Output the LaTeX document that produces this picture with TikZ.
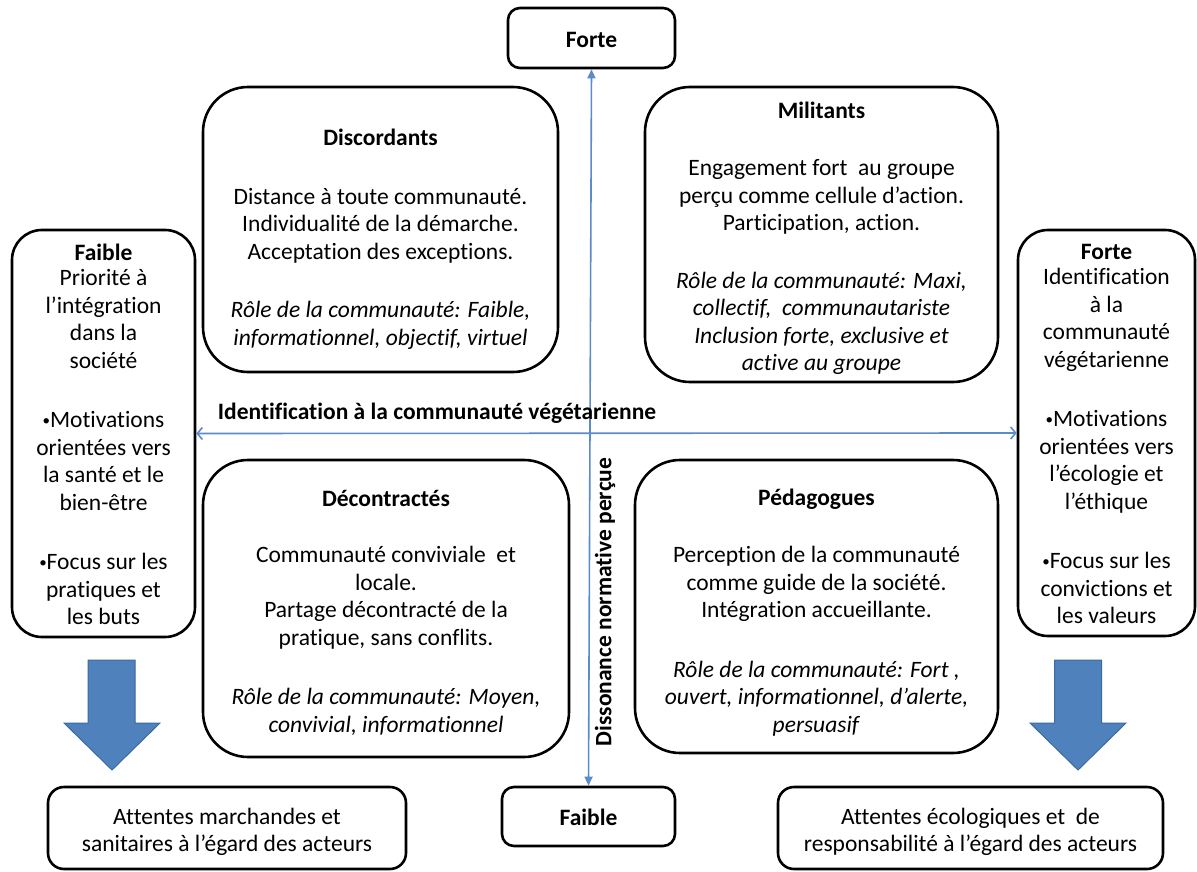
\documentclass[tikz,border=0pt]{standalone}
\usepackage{fontspec}
\setmainfont{Carlito}[Ligatures=NoCommon]
\usetikzlibrary{arrows.meta}
\definecolor{axisblue}{HTML}{5B8BC8}
\definecolor{arrowfill}{HTML}{4F81BD}
\definecolor{arrowline}{HTML}{3C6A9E}
\newcommand{\smallbul}{{\fontsize{15}{15}\selectfont\raisebox{2pt}{•}}}
\begin{document}
\begin{tikzpicture}[x=1pt,y=-1pt,
  box/.style={draw=black, line width=2.6pt, inner sep=0pt},
  txt/.style={align=center, inner sep=0pt, font=\fontsize{23.5}{27.5}\selectfont},
  quad/.style={box, rounded corners=45pt},
  side/.style={box, rounded corners=30pt},
  smallbox/.style={box, rounded corners=12pt},
  endbox/.style={box, rounded corners=16pt},
  axisline/.style={draw=axisblue, line width=1.6pt},
  biga/.style={fill=arrowfill, draw=arrowline, line width=1pt},
  lbl/.style={font=\fontsize{23.5}{27.5}\selectfont\bfseries, inner sep=0pt}
]
\useasboundingbox (0,0) rectangle (1197,872);

% axis end boxes
\node[smallbox, minimum width=167pt, minimum height=60pt] (forteT) at (591.5,38) {};
\node[lbl] (fortetxt) at ([yshift=-2pt]forteT.center) {Forte};
\node[smallbox, minimum width=173pt, minimum height=59pt] (faibleB) at (588.5,816.5) {};
\node[lbl] (faibletxt) at ([yshift=-1pt]faibleB.center) {Faible};

% side boxes
\node[side, minimum width=183pt, minimum height=407pt] (leftbox) at (103.5,433.5) {};
\node[txt] (lefttxt) at ([yshift=-1pt]leftbox.center)
 {\textbf{Faible}\\[-2pt] Priorité à\\ l’intégration\\ dans la\\ société\\[32pt]
  \smallbul Motivations\\ orientées vers\\ la santé et le\\ bien-être\\[32pt]
  \smallbul Focus sur les\\ pratiques et\\ les buts};
\node[side, minimum width=177pt, minimum height=406pt] (rightbox) at (1106.5,433) {};
\node[txt] (righttxt) at ([yshift=-1pt]rightbox.center)
 {\textbf{Forte}\\[-2pt] Identification\\ à la\\ communauté\\ végétarienne\\[32pt]
  \smallbul Motivations\\ orientées vers\\ l’écologie et\\ l’éthique\\[32pt]
  \smallbul Focus sur les\\ convictions et\\ les valeurs};

% quadrant boxes
\node[quad, minimum width=355pt, minimum height=285pt] (disc) at (380.5,229.5) {};
\node[txt] (disctxt) at ([yshift=-10pt]disc.center)
 {\textbf{Discordants}\\[31pt]
  Distance à toute communauté.\\ Individualité de la démarche.\\ Acceptation des exceptions.\\[31pt]
  \textit{Rôle de la communauté: Faible,}\\ \textit{informationnel, objectif, virtuel}};
\node[quad, minimum width=353pt, minimum height=295pt] (mili) at (821.5,234.5) {};
\node[txt] (militxt) at ([yshift=-4pt]mili.center)
 {\textbf{Militants}\\[30pt]
  Engagement fort\ \ au groupe\\ perçu comme cellule d’action.\\ Participation, action.\\[30pt]
  \textit{Rôle de la communauté: Maxi,}\\ \textit{collectif,\ \ communautariste}\\
  \textit{Inclusion forte, exclusive et}\\ \textit{active au groupe}};
\node[quad, minimum width=366pt, minimum height=297pt] (deco) at (386,608.5) {};
\node[txt] (decotxt) at ([yshift=-4pt]deco.center)
 {\textbf{Décontractés}\\[29pt]
  Communauté conviviale\ \ et\\ locale.\\ Partage décontracté de la\\ pratique, sans conflits.\\[32pt]
  \textit{Rôle de la communauté: Moyen,}\\ \textit{convivial, informationnel}};
\node[quad, minimum width=363pt, minimum height=293pt] (peda) at (816.5,606.5) {};
\node[txt] (pedatxt) at ([yshift=-6pt]peda.center)
 {\textbf{Pédagogues}\\[30pt]
  Perception de la communauté\\ comme guide de la société.\\ Intégration accueillante.\\[32pt]
  \textit{Rôle de la communauté: Fort ,}\\ \textit{ouvert, informationnel, d’alerte,}\\ \textit{persuasif}};

% bottom boxes
\node[endbox, minimum width=358pt, minimum height=82pt] (botL) at (227,828) {};
\node[txt] (botLtxt) at ([yshift=-4pt]botL.center)
 {Attentes marchandes et\\ sanitaires à l’égard des acteurs};
\node[endbox, minimum width=385pt, minimum height=82pt] (botR) at (970.5,828) {};
\node[txt] (botRtxt) at ([yshift=-4pt]botR.center)
 {Attentes écologiques et\ \ de\\ responsabilité à l’égard des acteurs};

% axes
\draw[axisline, {Triangle[length=9pt,width=8pt]}-{Triangle[length=9pt,width=8pt]}] (faibleB.north) -- (forteT.south);
\draw[axisline, {Straight Barb[length=5pt,width=12pt]}-{Straight Barb[length=5pt,width=12pt]}] (leftbox.east) -- (rightbox.west);

% axis labels
\node[lbl] (hlabel) at (437,413) {Identification à la communauté végétarienne};
\node[lbl, rotate=90] (vlabel) at (605,602) {Dissonance normative perçue};

% big arrows
\draw[biga] (88,660) -- (135,660) -- (135,723) -- (160,723) -- (112,770) -- (64,723) -- (88,723) -- cycle;
\draw[biga] (1054.5,660) -- (1101.5,660) -- (1101.5,723) -- (1126,723) -- (1078,770) -- (1030,723) -- (1054.5,723) -- cycle;
\end{tikzpicture}
\end{document}
